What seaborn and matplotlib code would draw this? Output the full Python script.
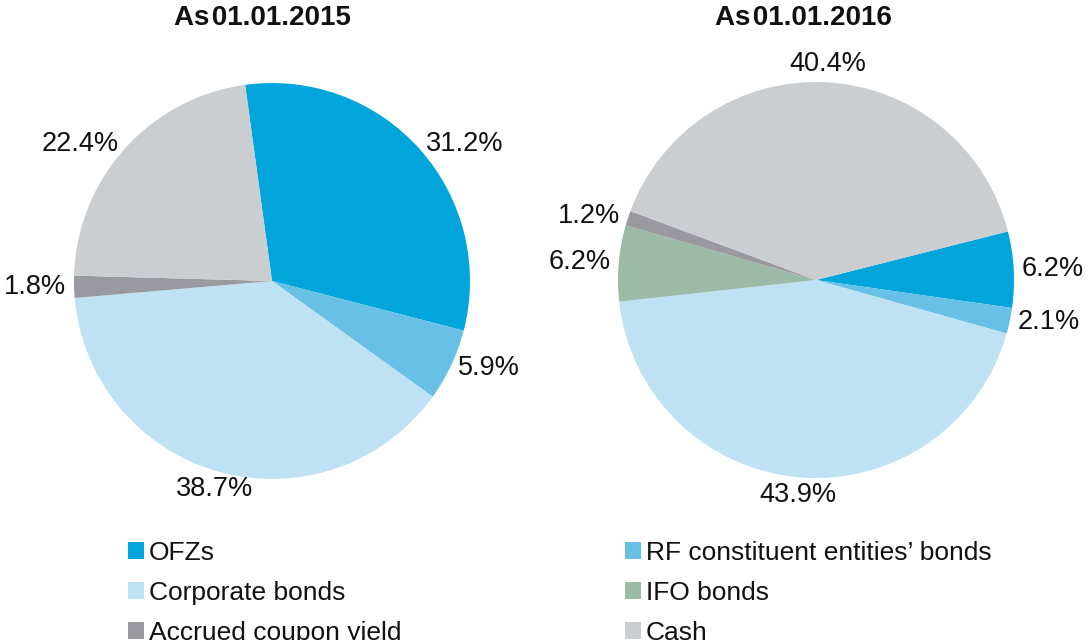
import matplotlib
matplotlib.use('Agg')
import matplotlib.pyplot as plt
import seaborn as sns
from matplotlib.patches import Patch

# portfolio structure, % of total
categories = ['OFZs', 'RF constituent entities\u2019 bonds', 'Corporate bonds',
              'IFO bonds', 'Accrued coupon yield', 'Cash']
shares_2015 = [31.2, 5.9, 38.7, 0.0, 1.8, 22.4]
shares_2016 = [6.2, 2.1, 43.9, 6.2, 1.2, 40.4]
titles = ['As\u200a01.01.2015', 'As\u200a01.01.2016']

palette = ['#00a6db', '#69c0e6', '#bee1f3', '#9bbba8', '#99999f', '#cbced1']
colors = dict(zip(categories, palette))

sns.set_theme(style='white')
plt.rcParams['font.family'] = ['Liberation Sans', 'DejaVu Sans']

W, H = 1091, 640
R = 198
fig = plt.figure(figsize=(W / 100, H / 100), dpi=100)


def draw_pie(cx, cy, shares, start, title, title_x):
    ax = fig.add_axes([(cx - R) / W, 1 - (cy + R) / H, 2 * R / W, 2 * R / H])
    keep = [(c, v) for c, v in zip(categories, shares) if v > 0]
    labs = [c for c, _ in keep]
    vals = [v for _, v in keep]
    wedges, texts = ax.pie(vals, labels=[f'{v:.1f}%' for v in vals],
                           colors=[colors[c] for c in labs],
                           startangle=start, counterclock=False,
                           labeldistance=1.04,
                           wedgeprops=dict(linewidth=0),
                           textprops=dict(fontsize=19.5, color='#111111'))
    for t in texts:
        x, y = t.get_position()
        if abs(x) < 0.35:
            # labels above / below the pie sit centred and a bit further out
            t.set_ha('center')
            t.set_position((x * 1.09 / 1.04, y * 1.09 / 1.04))
    ax.set_xlim(-1, 1)
    ax.set_ylim(-1, 1)
    fig.text(title_x / W, 1 - 18 / H, title, ha='center', va='center',
             fontsize=20, fontweight='bold', color='#111111')
    return ax


draw_pie(272, 281, shares_2015, 97.8, titles[0], 262)
draw_pie(816, 280, shares_2016, 14.2, titles[1], 803)

cols = [[categories[0], categories[2], categories[4]],
        [categories[1], categories[3], categories[5]]]
for x0, col in zip([128, 625], cols):
    fig.legend(handles=[Patch(facecolor=colors[c], edgecolor='none') for c in col],
               labels=col, loc='upper left', bbox_to_anchor=(x0 / W, 1 - 541 / H),
               frameon=False, fontsize=19, handlelength=0.6, handleheight=0.6,
               handletextpad=0.2, labelspacing=0.6, borderpad=0, borderaxespad=0,
               labelcolor='#111111')

fig.savefig('out.png', dpi=100)
